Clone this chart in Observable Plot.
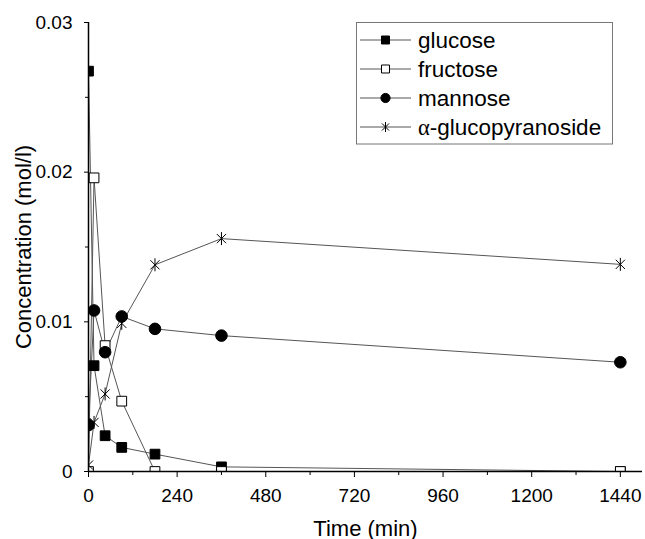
<!DOCTYPE html>
<html><head><meta charset="utf-8">
<script src="https://cdn.jsdelivr.net/npm/d3@7"></script>
<script src="https://cdn.jsdelivr.net/npm/@observablehq/plot@0.6"></script>
<style>
body{margin:0;background:#fff;}
#wrap{position:relative;width:645px;height:539px;font-family:"Liberation Sans",Arial,sans-serif;}
#legend{position:absolute;left:0;top:0;}
</style></head><body><div id="wrap"></div>
<script>
// ---- data ----
const times = [0, 15, 45, 90, 180, 360, 1440];
const glucose = [0.02675, 0.00707, 0.00239, 0.00161, 0.00116, 0.00031, 0];
const fructose = [0, 0.01962, 0.00841, 0.0047, 0, 0, 0];
const mannose = [0.0031, 0.01076, 0.00797, 0.01036, 0.00953, 0.00908, 0.0073];
const glucopyranoside = [0.00043, 0.00328, 0.00518, 0.0099, 0.01381, 0.01556, 0.01384];
const seriesNames = ["glucose", "fructose", "mannose", "α-glucopyranoside"];
const seriesValues = [glucose, fructose, mannose, glucopyranoside];
const xTicks = [0, 240, 480, 720, 960, 1200, 1440];
const xMinorTicks = [120, 360, 600, 840, 1080, 1320];
const yTicks = [0, 0.01, 0.02, 0.03];
const yTickLabels = ["0", "0.01", "0.02", "0.03"];
const yMinorTicks = [0.005, 0.015, 0.025];

// ---- styles ----
const star = {
  draw(context, size) {
    const r = Math.sqrt(size / Math.PI);
    const d = r * Math.SQRT1_2;
    context.moveTo(0, -r); context.lineTo(0, r);
    context.moveTo(-d, -d); context.lineTo(d, d);
    context.moveTo(-d, d); context.lineTo(d, -d);
  }
};
const styles = [
  {symbol: d3.symbolSquare, fill: "black", r: 5.5, lr: 4.5},
  {symbol: d3.symbolSquare, fill: "white", r: 5.5, lr: 4.5},
  {symbol: d3.symbolCircle, fill: "black", r: 5.8, lr: 4.6},
  {symbol: star, fill: "none", r: 6.5, lr: 5}
];
const lineColor = "#555";
const font = "Liberation Sans, Arial, sans-serif";

const data = seriesNames.flatMap((s, i) => times.map((t, j) => ({series: s, time: t, value: seriesValues[i][j]})));

const chart = Plot.plot({
  width: 645, height: 539,
  marginLeft: 88, marginRight: 3, marginTop: 22, marginBottom: 68,
  style: {fontFamily: font, background: "white", color: "black", overflow: "visible"},
  x: {domain: [0, 1500]},
  y: {domain: [0, 0.03]},
  marks: [
    ...seriesNames.map(s => Plot.line(data.filter(d => d.series === s), {x: "time", y: "value", stroke: lineColor, strokeWidth: 1})),
    ...seriesNames.map((s, i) => Plot.dot(data.filter(d => d.series === s), {
      x: "time", y: "value", symbol: styles[i].symbol, r: styles[i].r,
      fill: styles[i].fill, stroke: "black", strokeWidth: 1, clip: true
    })),
    Plot.axisX({ticks: xMinorTicks, tickSize: 4, tickFormat: () => "", label: null}),
    Plot.axisX({ticks: xTicks, tickSize: 6, tickPadding: 11, fontSize: 19, tickFormat: d => String(d), label: null}),
    Plot.axisY({ticks: yMinorTicks, tickSize: 3, tickFormat: () => "", label: null}),
    Plot.axisY({ticks: yTicks, tickSize: 4, tickPadding: 12, fontSize: 19, tickFormat: d => yTickLabels[yTicks.indexOf(d)], label: null}),
    Plot.ruleX([0], {stroke: "black", strokeWidth: 1.5}),
    Plot.ruleY([0], {stroke: "black", strokeWidth: 1.5}),
    Plot.text(["Time (min)"], {frameAnchor: "bottom", dy: 64, lineAnchor: "bottom", textAnchor: "middle", fontSize: 22, fill: "black"}),
    Plot.text(["Concentration (mol/l)"], {frameAnchor: "left", dx: -65, rotate: -90, lineAnchor: "middle", textAnchor: "middle", fontSize: 22, fill: "black"})
  ]
});
document.getElementById("wrap").appendChild(chart);

// ---- legend overlay ----
const lg = d3.select("#wrap").append("svg").attr("id", "legend")
  .attr("width", 645).attr("height", 539);
lg.append("rect").attr("x", 356.5).attr("y", 22.5).attr("width", 256).attr("height", 121.5)
  .attr("fill", "white").attr("stroke", "#777").attr("stroke-width", 1);
seriesNames.forEach((s, i) => {
  const y = 40 + i * 29;
  const g = lg.append("g");
  g.append("line").attr("x1", 360).attr("x2", 411).attr("y1", y).attr("y2", y)
    .attr("stroke", lineColor).attr("stroke-width", 1);
  g.append("path").attr("d", d3.symbol(styles[i].symbol, Math.PI * styles[i].lr * styles[i].lr)())
    .attr("transform", `translate(385.5,${y})`)
    .attr("fill", styles[i].fill).attr("stroke", "black").attr("stroke-width", 1);
  const t = g.append("text").attr("x", 418).attr("y", y).attr("dy", "0.35em")
    .attr("font-size", 22.5).attr("font-family", font).attr("fill", "black");
  if (s.startsWith("α")) {
    t.append("tspan").attr("font-family", "Liberation Serif, serif").text("α");
    t.append("tspan").text(s.slice(1));
  } else {
    t.text(s);
  }
});
</script>
</body></html>
